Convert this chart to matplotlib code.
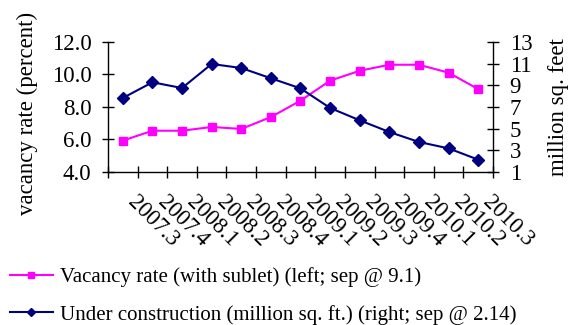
import numpy as np
import matplotlib.pyplot as plt
from matplotlib.lines import Line2D
from matplotlib.transforms import ScaledTranslation

quarters = ["2007.3", "2007.4", "2008.1", "2008.2", "2008.3", "2008.4", "2009.1",
            "2009.2", "2009.3", "2009.4", "2010.1", "2010.2", "2010.3"]
vacancy = [5.93, 6.54, 6.54, 6.77, 6.65, 7.38, 8.39, 9.62, 10.23, 10.6, 10.6, 10.11, 9.1]
construction = [7.83, 9.28, 8.75, 10.97, 10.6, 9.65, 8.72, 6.91, 5.77, 4.69, 3.77, 3.18, 2.14]

pink = "#ff00ff"
navy = "#000080"

plt.rcParams["font.family"] = "Liberation Serif"
plt.rcParams["font.size"] = 16.5

fig = plt.figure(figsize=(5.76, 3.25), dpi=100)
ax = fig.add_axes([0.1875, 0.4708, 0.6684, 0.4])
ax2 = ax.twinx()

x = np.arange(len(quarters))
ax.plot(x, vacancy, color=pink, lw=1.5, marker="s", ms=6, mec=pink, mfc=pink, zorder=3)
ax2.plot(x, construction, color=navy, lw=1.5, marker="D", ms=6, mec=navy, mfc=navy, zorder=3)

ax.set_xlim(-0.5, len(quarters) - 0.5)
ax.set_ylim(4, 12)
ax.set_yticks(np.arange(4, 12.1, 2))
ax.set_yticklabels([f"{v:.1f}" for v in np.arange(4, 12.1, 2)])
ax2.set_ylim(1, 13)
ax2.set_yticks(np.arange(1, 14, 2))

# category boundaries get the ticks, labels sit at category centers
ax.set_xticks(np.arange(-0.5, len(quarters), 1))
ax.set_xticklabels([])
ax.set_xticks(x, minor=True)
ax.set_xticklabels(quarters, minor=True, rotation=-45, ha="left", va="center",
                   rotation_mode="anchor")
ax.tick_params(axis="x", which="minor", length=0, pad=0)
off = ScaledTranslation(8 / 100, -27 / 100, fig.dpi_scale_trans)
for lab in ax.get_xticklabels(minor=True):
    lab.set_transform(lab.get_transform() + off)

ax.tick_params(axis="x", which="major", direction="inout", length=9, width=1)
ax.tick_params(axis="y", direction="inout", length=9, width=1, pad=7.5)
ax2.tick_params(axis="y", direction="inout", length=9, width=1, pad=7.5)

for a in (ax, ax2):
    a.spines["top"].set_visible(False)
    for s in ("left", "right", "bottom"):
        a.spines[s].set_linewidth(1)
ax.spines["right"].set_visible(False)
ax2.spines["left"].set_visible(False)
ax2.spines["bottom"].set_visible(False)

ax.set_ylabel("vacancy rate (percent)")
ax.yaxis.set_label_coords(-0.182, 0.454)
ax2.set_ylabel("million sq. feet")
ax2.yaxis.set_label_coords(1.144, 0.496)

handles = [
    Line2D([], [], color=pink, lw=1.5, marker="s", ms=4, mec=pink, mfc=pink),
    Line2D([], [], color=navy, lw=1.5, marker="D", ms=4, mec=navy, mfc=navy),
]
labels = ["Vacancy rate (with sublet) (left; sep @ 9.1)",
          "Under construction (million sq. ft.) (right; sep @ 2.14)"]
fig.legend(handles, labels, loc="center left", bbox_to_anchor=(10 / 576, 0.09),
           frameon=False, borderpad=0, borderaxespad=0, handlelength=2.05,
           handletextpad=0.33, labelspacing=0.85, fontsize=15.0)

fig.savefig("out.png", dpi=100)
